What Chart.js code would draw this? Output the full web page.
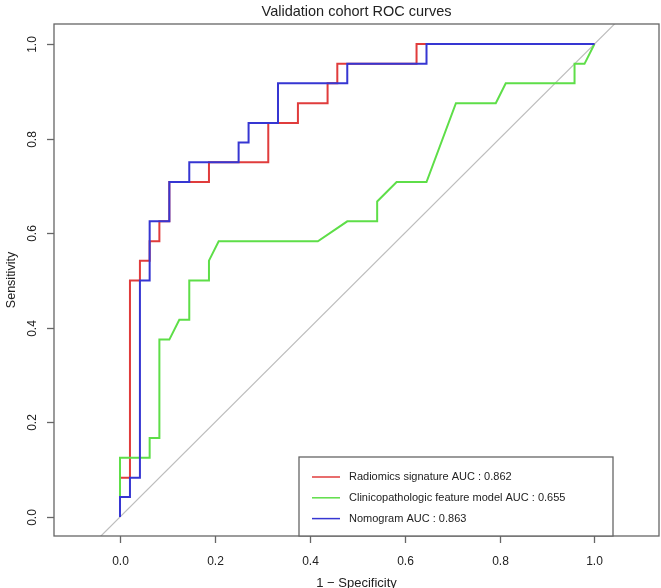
<!DOCTYPE html>
<html>
<head>
<meta charset="utf-8">
<script src="https://cdn.jsdelivr.net/npm/chart.js@4.4.0/dist/chart.umd.min.js"></script>
<style>
  html, body { margin: 0; padding: 0; background: #fff; }
  #wrap { width: 661px; height: 588px; }
</style>
</head>
<body>
<div id="wrap"><canvas id="roc" width="661" height="588"></canvas></div>
<script>
// ROC curve points (1 - specificity, sensitivity)
const radiomicsX = [0, 0, 0.021, 0.021, 0.042, 0.042, 0.0625, 0.0625, 0.083, 0.083, 0.104, 0.104, 0.1875, 0.1875, 0.3125, 0.3125, 0.375, 0.375, 0.4375, 0.4375, 0.458, 0.458, 0.625, 0.625, 1];
const radiomicsY = [0, 0.083, 0.083, 0.5, 0.5, 0.542, 0.542, 0.583, 0.583, 0.625, 0.625, 0.708, 0.708, 0.75, 0.75, 0.833, 0.833, 0.875, 0.875, 0.917, 0.917, 0.958, 0.958, 1, 1];

const clinicalX = [0, 0, 0.0625, 0.0625, 0.083, 0.083, 0.104, 0.125, 0.146, 0.146, 0.1875, 0.1875, 0.208, 0.417, 0.479, 0.542, 0.542, 0.583, 0.646, 0.708, 0.792, 0.813, 0.958, 0.958, 0.979, 1];
const clinicalY = [0, 0.125, 0.125, 0.167, 0.167, 0.375, 0.375, 0.417, 0.417, 0.5, 0.5, 0.542, 0.583, 0.583, 0.625, 0.625, 0.667, 0.708, 0.708, 0.875, 0.875, 0.917, 0.917, 0.958, 0.958, 1];

const nomogramX = [0, 0, 0.021, 0.021, 0.042, 0.042, 0.0625, 0.0625, 0.104, 0.104, 0.146, 0.146, 0.25, 0.25, 0.271, 0.271, 0.333, 0.333, 0.479, 0.479, 0.646, 0.646, 1];
const nomogramY = [0, 0.042, 0.042, 0.083, 0.083, 0.5, 0.5, 0.625, 0.625, 0.708, 0.708, 0.75, 0.75, 0.792, 0.792, 0.833, 0.833, 0.917, 0.917, 0.958, 0.958, 1, 1];

const refLine = [-0.2, 1.2];

const seriesNames = ['Radiomics signature AUC : 0.862', 'Clinicopathologic feature model AUC : 0.655', 'Nomogram AUC : 0.863'];
const seriesColors = ['#e03c3c', '#5ede48', '#3636d2'];

const xTicks = [0, 0.2, 0.4, 0.6, 0.8, 1.0];
const yTicks = [0, 0.2, 0.4, 0.6, 0.8, 1.0];

const chartTitle = 'Validation cohort ROC curves';
const xTitle = '1 \u2212 Specificity';
const yTitle = 'Sensitivity';

const toPts = (xs, ys) => xs.map((x, i) => ({ x: x, y: ys[i] }));

const FONT = '"Liberation Sans", Arial, Helvetica, sans-serif';

// R style box, ticks, labels, titles and legend
const rStyle = {
  id: 'rStyle',
  afterDraw(chart) {
    const { ctx, chartArea: a, scales: { x, y } } = chart;
    ctx.save();
    ctx.strokeStyle = '#666';
    ctx.lineWidth = 1.3;
    ctx.strokeRect(a.left, a.top, a.right - a.left, a.bottom - a.top);

    ctx.fillStyle = '#222';
    ctx.font = '12px ' + FONT;
    ctx.textAlign = 'center';
    ctx.textBaseline = 'middle';

    // x ticks
    xTicks.forEach(v => {
      const px = Math.round(x.getPixelForValue(v)) + 0.5;
      ctx.beginPath();
      ctx.moveTo(px, a.bottom);
      ctx.lineTo(px, a.bottom + 7);
      ctx.stroke();
      ctx.fillText(v.toFixed(1), px, a.bottom + 26);
    });

    // y ticks (labels rotated like R)
    yTicks.forEach(v => {
      const py = Math.round(y.getPixelForValue(v)) + 0.5;
      ctx.beginPath();
      ctx.moveTo(a.left - 7, py);
      ctx.lineTo(a.left, py);
      ctx.stroke();
      ctx.save();
      ctx.translate(a.left - 21, py);
      ctx.rotate(-Math.PI / 2);
      ctx.fillText(v.toFixed(1), 0, 0);
      ctx.restore();
    });

    const midX = (a.left + a.right) / 2;
    const midY = (a.top + a.bottom) / 2;

    ctx.font = '13px ' + FONT;
    ctx.fillText(xTitle, midX, a.bottom + 47);
    ctx.font = '12.5px ' + FONT;
    ctx.save();
    ctx.translate(12, midY);
    ctx.rotate(-Math.PI / 2);
    ctx.fillText(yTitle, 0, 0);
    ctx.restore();

    ctx.font = '14.5px ' + FONT;
    ctx.fillText(chartTitle, midX, 12);

    // legend
    const lx = 299, ly = 457, lw = 314, lh = a.bottom - ly;
    ctx.fillStyle = '#fff';
    ctx.fillRect(lx, ly, lw, lh);
    ctx.strokeStyle = '#666';
    ctx.strokeRect(lx, ly, lw, lh);
    ctx.font = '11px ' + FONT;
    ctx.textAlign = 'left';
    seriesNames.forEach((name, i) => {
      const ry = ly + 20 + i * 20.8;
      ctx.strokeStyle = seriesColors[i];
      ctx.lineWidth = 1.5;
      ctx.beginPath();
      ctx.moveTo(lx + 13, ry);
      ctx.lineTo(lx + 41, ry);
      ctx.stroke();
      ctx.fillStyle = '#222';
      ctx.fillText(name, lx + 50, ry);
    });
    ctx.restore();
  }
};

new Chart(document.getElementById('roc'), {
  type: 'scatter',
  data: {
    datasets: [
      {
        label: seriesNames[2],
        data: toPts(nomogramX, nomogramY),
        borderColor: seriesColors[2],
        order: 1
      },
      {
        label: seriesNames[1],
        data: toPts(clinicalX, clinicalY),
        borderColor: seriesColors[1],
        order: 2
      },
      {
        label: seriesNames[0],
        data: toPts(radiomicsX, radiomicsY),
        borderColor: seriesColors[0],
        order: 3
      },
      {
        label: 'reference',
        data: toPts(refLine, refLine),
        borderColor: '#bdbdbd',
        borderWidth: 1.2,
        order: 4
      }
    ]
  },
  options: {
    responsive: false,
    animation: false,
    events: [],
    showLine: true,
    elements: {
      point: { radius: 0 },
      line: { borderWidth: 2, tension: 0, borderJoinStyle: 'miter', fill: false }
    },
    layout: { padding: { left: 54, top: 24, right: 2, bottom: 52 } },
    plugins: { legend: { display: false }, tooltip: { enabled: false }, title: { display: false } },
    scales: {
      x: { type: 'linear', min: -0.1391, max: 1.136, display: false },
      y: { type: 'linear', min: -0.0402, max: 1.0423, display: false }
    }
  },
  plugins: [rStyle]
});
</script>
</body>
</html>
